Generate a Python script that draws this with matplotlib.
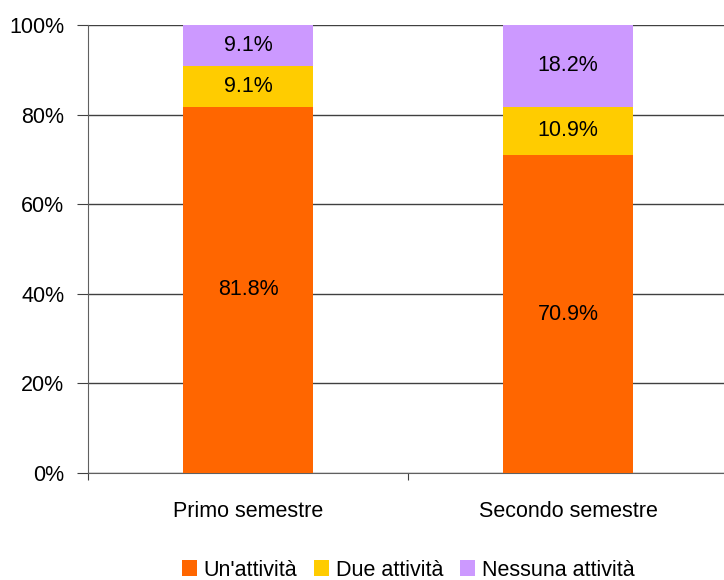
import matplotlib.pyplot as plt
import numpy as np

categories = ['Primo semestre', 'Secondo semestre']
series_names = ["Un'attività", 'Due attività', 'Nessuna attività']
un_attivita = [81.8, 70.9]
due_attivita = [9.1, 10.9]
nessuna_attivita = [9.1, 18.2]
colors = ['#FF6600', '#FFCC00', '#CC99FF']

plt.rcParams['font.family'] = ['Liberation Sans', 'DejaVu Sans']
fs = 15.5

fig = plt.figure(figsize=(7.24, 5.8), dpi=100)
ax = fig.add_axes([88 / 724, 107 / 580, 640 / 724, 448 / 580])

x = np.arange(len(categories))
bottom = np.zeros(len(categories))
for name, vals, c in zip(series_names, [un_attivita, due_attivita, nessuna_attivita], colors):
	bars = ax.bar(x, vals, 0.405, bottom=bottom, color=c, label=name, zorder=3)
	for xi, b, v in zip(x, bottom, vals):
		ax.text(xi, b + v / 2, '%.1f%%' % v, ha='center', va='center', fontsize=fs, zorder=4)
	bottom += np.array(vals)
pass

ax.set_xlim(-0.5, 1.5)
ax.set_ylim(0, 100)
ax.set_yticks(np.arange(0, 101, 20))
ax.set_yticklabels(['%d%%' % v for v in range(0, 101, 20)], fontsize=fs)
ax.yaxis.grid(True, color='#404040', linewidth=1, zorder=0)

ax.set_xticks([-0.5, 0.5, 1.5])
ax.set_xticklabels([])
ax.set_xticks(x, minor=True)
ax.set_xticklabels(categories, minor=True, fontsize=fs)
ax.tick_params(axis='x', which='minor', length=0, pad=20)
ax.tick_params(axis='x', which='major', length=5, color='#404040')
ax.tick_params(axis='y', length=8, color='#404040', pad=9)

for s in ['top', 'right']:
	ax.spines[s].set_visible(False)
for s in ['left', 'bottom']:
	ax.spines[s].set_color('#606060')

ax.legend(loc='center', bbox_to_anchor=(408 / 724, 10 / 580), bbox_transform=fig.transFigure,
	ncol=3, frameon=False, fontsize=fs, handlelength=0.7, handleheight=0.7,
	handletextpad=0.3, columnspacing=0.8)

fig.savefig('out.png', dpi=100)
